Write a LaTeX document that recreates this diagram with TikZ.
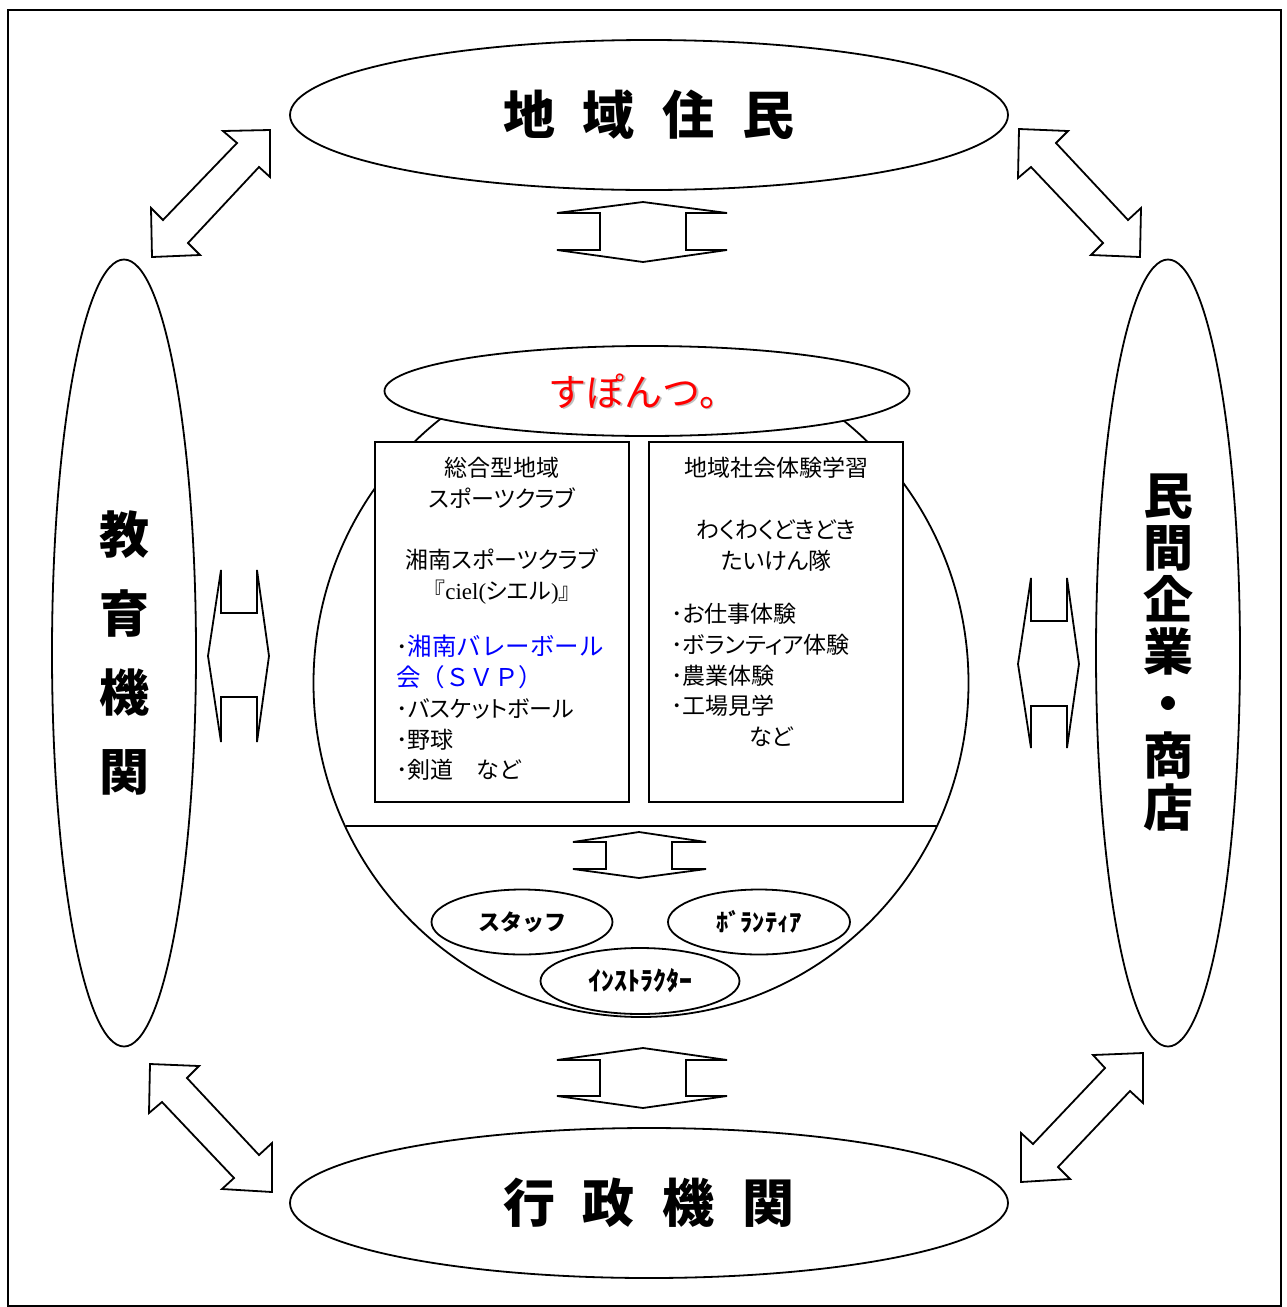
\documentclass[tikz,border=0pt]{standalone}
\usepackage{fontspec}
\setmainfont{Noto Sans CJK JP}
\newfontfamily\cjkf{Noto Sans CJK JP}
\newfontfamily\cjkp[RawFeature=+palt]{Noto Sans CJK JP}
\newfontfamily\serifl{Liberation Serif}
\usetikzlibrary{shapes.geometric}
\tikzset{
  ln/.style={line width=1.8pt},
  oval/.style={ln, draw, ellipse, inner sep=0pt, fill=white},
  bigtxt/.style={font=\fontsize{52}{60}\selectfont\bfseries},
  boxtxt/.style={font=\cjkp\fontsize{23}{30.8}\selectfont, inner sep=0pt},
  smalltxt/.style={font=\fontsize{22}{26}\selectfont\bfseries},
  shp/.style={ln, draw, fill=white, line join=miter},
}
\newcommand{\bluetxt}[1]{\textcolor{blue}{\cjkf\fontsize{24.5}{30.8}\selectfont #1}}
\begin{document}
\begin{tikzpicture}[x=1pt,y=-1pt]
\useasboundingbox (0,0) rectangle (1286,1307);
\draw[ln] (8,10) rectangle (1281,1306);

% outer ellipses
\node[oval, bigtxt, minimum width=718pt, minimum height=150pt] (jumin) at (649,115)
  {地\hspace{28pt}域\hspace{28pt}住\hspace{28pt}民};
\node[oval, bigtxt, minimum width=718pt, minimum height=150pt] (gyosei) at (649,1203)
  {行\hspace{28pt}政\hspace{28pt}機\hspace{28pt}関};
\node[oval, bigtxt, align=center, minimum width=144pt, minimum height=787pt,
  font=\fontsize{50}{79}\selectfont\bfseries] (kyoiku) at (124,653)
  {教\\育\\機\\関};
\node[oval, bigtxt, align=center, minimum width=144pt, minimum height=787pt,
  font=\fontsize{50}{52}\selectfont\bfseries] (minkan) at (1168,653)
  {民\\間\\企\\業\\・\\商\\店};

% central circle
\node[ln, draw, ellipse, minimum width=655pt, minimum height=668pt, inner sep=0pt] (circ) at (641,683) {};
\coordinate (hl) at (345.5,826);
\coordinate (hr) at (936.5,826);
\draw[ln] (hl) -- (hr);

% boxes
\node[ln, draw, fill=white, minimum width=254pt, minimum height=360pt, inner sep=0pt] (boxL) at (502,622) {};
\node[ln, draw, fill=white, minimum width=254pt, minimum height=360pt, inner sep=0pt] (boxR) at (776,622) {};

\node[boxtxt, align=center, anchor=north] (hL) at (502,457)
  {総合型地域\\スポーツクラブ\\[30.8pt]湘南スポーツクラブ\\『{\serifl ciel(}シエル{\serifl )}』};
\node[boxtxt, align=left, anchor=north west] (lL) at (396,635)
  {･\bluetxt{湘南バレーボール}\\\bluetxt{会（ＳＶＰ）}\\･バスケットボール\\･野球\\･剣道　など};

\node[boxtxt, align=center, anchor=north] (hR) at (776,457)
  {地域社会体験学習\\[30.8pt]わくわくどきどき\\たいけん隊};
\node[boxtxt, align=left, anchor=north west] (lR) at (671,603)
  {･お仕事体験\\･ボランティア体験\\･農業体験\\･工場見学\\\hspace{78pt}など};

% title ellipse
\node[oval, minimum width=525pt, minimum height=90pt] (spon) at (647,391) {};
\node[font=\fontsize{38}{44}\selectfont, text=black!25, inner sep=0pt] (sponsh) at (644.5,392.5) {すぽんつ。};
\node[font=\fontsize{38}{44}\selectfont, text=red, inner sep=0pt] (spont) at (643,391) {すぽんつ。};

% small ellipses
\node[oval, smalltxt, minimum width=181pt, minimum height=65pt] (staff) at (522,922) {スタッフ};
\node[oval, smalltxt, minimum width=182pt, minimum height=65pt, font=\fontsize{24.5}{26}\selectfont\bfseries] (vol) at (759,922) {ﾎﾞﾗﾝﾃｨｱ};
\node[oval, smalltxt, minimum width=199pt, minimum height=66pt, font=\fontsize{26}{28}\selectfont\bfseries] (inst) at (640,981) {ｲﾝｽﾄﾗｸﾀｰ};

% vertical double arrows (up/down)
\draw[shp] (643,202) -- (727,213) -- (686,213) -- (686,250) -- (727,250) -- (643,262)
  -- (557,250) -- (600,250) -- (600,213) -- (557,213) -- cycle;
\draw[shp] (643,1048) -- (727,1060) -- (686,1060) -- (686,1096) -- (727,1096) -- (643,1108)
  -- (557,1096) -- (600,1096) -- (600,1060) -- (557,1060) -- cycle;
\draw[shp] (639,832) -- (706,842) -- (672,842) -- (672,869) -- (706,869) -- (639,878)
  -- (573,869) -- (606,869) -- (606,842) -- (573,842) -- cycle;

% horizontal double arrows (left/right)
\draw[shp] (208,656) -- (221,570) -- (221,613) -- (257,613) -- (257,570) -- (269,656)
  -- (257,742) -- (257,697) -- (221,697) -- (221,742) -- cycle;
\draw[shp] (1018,664) -- (1031,578) -- (1031,621) -- (1067,621) -- (1067,578) -- (1079,664)
  -- (1067,748) -- (1067,706) -- (1031,706) -- (1031,748) -- cycle;

% diagonal double arrows
\draw[shp] (270,130) -- (223,131) -- (237,143) -- (163,220) -- (151,208) -- (152,257)
  -- (200,255) -- (188,243) -- (259,167) -- (270,177) -- cycle;
\draw[shp] (1019,129) -- (1068,131) -- (1056,143) -- (1128,220) -- (1141,208) -- (1140,257)
  -- (1091,255) -- (1103,243) -- (1031,167) -- (1018,178) -- cycle;
\draw[shp] (150,1064) -- (199,1066) -- (187,1078) -- (259,1155) -- (272,1143) -- (272,1192)
  -- (222,1189) -- (234,1178) -- (162,1102) -- (149,1113) -- cycle;
\draw[shp] (1143,1053) -- (1093,1055) -- (1105,1068) -- (1033,1144) -- (1021,1133) -- (1021,1182)
  -- (1070,1179) -- (1058,1167) -- (1130,1091) -- (1143,1103) -- cycle;
\end{tikzpicture}
\end{document}
